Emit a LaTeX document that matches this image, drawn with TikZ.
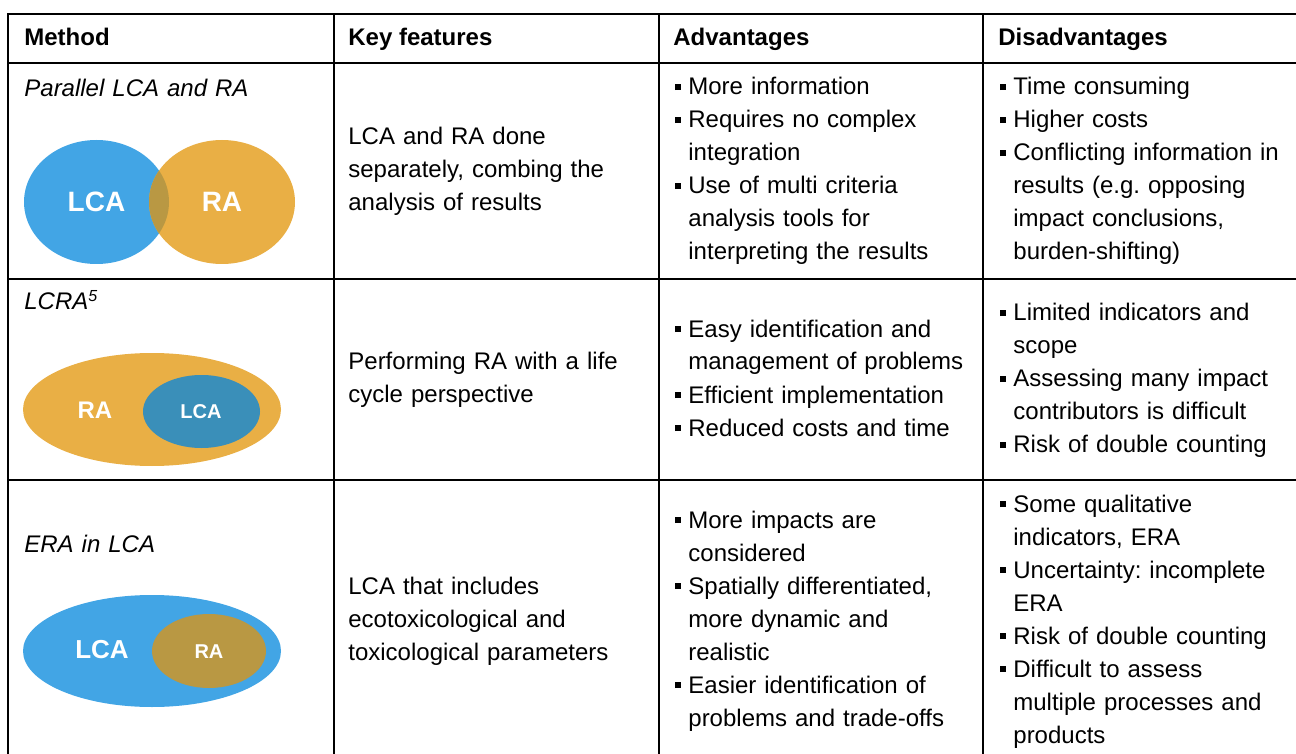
\documentclass[tikz,border=0pt]{standalone}
\usepackage{fontspec}
\setmainfont{Liberation Sans}
\frenchspacing
\definecolor{lcablue}{RGB}{66,165,229}
\definecolor{lcadark}{RGB}{58,143,185}
\definecolor{raorange}{RGB}{233,175,69}
\definecolor{rabrown}{RGB}{185,152,67}
\newcommand{\bul}{\leavevmode\llap{\rule[2.4pt]{3pt}{3pt}\hspace{3.6pt}}}
\tikzset{
  cell/.style={anchor=base west,inner sep=0pt,text width=150pt,align=left,font=\fontsize{12}{16.5}\selectfont},
  meth/.style={cell,font=\fontsize{12}{16.5}\selectfont\itshape},
  head/.style={anchor=base west,inner sep=0pt,font=\fontsize{12}{16.5}\selectfont\bfseries},
  tag/.style={inner sep=0pt,text=white,font=\fontsize{#1}{#1}\selectfont\bfseries},
  rule/.style={line width=1pt},
}
\begin{document}
\begin{tikzpicture}[x=0.5pt,y=-0.5pt]
\useasboundingbox (0,0) rectangle (1296,754);
% table lines
\draw[rule] (8,754)--(8,14)--(1296,14);
\foreach \y in {63,279,480} \draw[rule] (8,\y)--(1296,\y);
\foreach \x in {334,659,983} \draw[rule] (\x,14)--(\x,754);
% header
\node[head] (hmethod) at (24,46) {Method};
\node[head] (hkey) at (348,46) {Key features};
\node[head] (hadv) at (673,46) {Advantages};
\node[head] (hdis) at (998,46) {Disadvantages};
% row 1: parallel
\node[meth] (m1) at (24,97) {Parallel LCA and RA};
\fill[lcablue] (96.5,202) ellipse [x radius=72.5,y radius=62];
\fill[raorange] (222,202) ellipse [x radius=73,y radius=62];
\begin{scope}
\clip (96.5,202) ellipse [x radius=72.5,y radius=62];
\fill[rabrown] (222,202) ellipse [x radius=73,y radius=62];
\end{scope}
\node[tag=14] (lca1) at (96.5,202) {LCA};
\node[tag=14] (ra1) at (222,202) {RA};
\node[cell] (k1) at (348,145) {LCA and RA done\\separately, combing the\\analysis of results};
\node[cell] (a1) at (688,95) {\bul More information\\\bul Requires no complex\\integration\\\bul Use of multi criteria\\analysis tools for\\interpreting the results};
\node[cell] (d1) at (1013,95) {\bul Time consuming\\\bul Higher costs\\\bul Conflicting information in\\results (e.g. opposing\\impact conclusions,\\burden-shifting)};
% row 2: LCRA
\node[meth] (m2) at (24,310) {LCRA\textsuperscript{5}};
\fill[raorange] (152,409.5) ellipse [x radius=129,y radius=56.5];
\fill[lcadark] (201.5,411.5) ellipse [x radius=58.5,y radius=36.5];
\node[tag=12] (ra2) at (95,410.5) {RA};
\node[tag=10] (lca2) at (201,412) {LCA};
\node[cell] (k2) at (348,370) {Performing RA with a life\\cycle perspective};
\node[cell] (a2) at (688,337) {\bul Easy identification and\\management of problems\\\bul Efficient implementation\\\bul Reduced costs and time};
\node[cell] (d2) at (1013,321) {\bul Limited indicators and\\scope\\\bul Assessing many impact\\contributors is difficult\\\bul Risk of double counting};
% row 3: ERA in LCA
\node[meth] (m3) at (24,552) {ERA in LCA};
\fill[lcablue] (152,651) ellipse [x radius=129,y radius=56];
\fill[rabrown] (209,651) ellipse [x radius=57,y radius=37];
\node[tag=13] (lca3) at (102,650) {LCA};
\node[tag=10] (ra3) at (209,652) {RA};
\node[cell] (k3) at (348,594) {LCA that includes\\ecotoxicological and\\toxicological parameters};
\node[cell] (a3) at (688,528) {\bul More impacts are\\considered\\\bul Spatially differentiated,\\more dynamic and\\realistic\\\bul Easier identification of\\problems and trade-offs};
\node[cell] (d3) at (1013,512) {\bul Some qualitative\\indicators, ERA\\\bul Uncertainty: incomplete\\ERA\\\bul Risk of double counting\\\bul Difficult to assess\\multiple processes and\\products};
\end{tikzpicture}
\end{document}
